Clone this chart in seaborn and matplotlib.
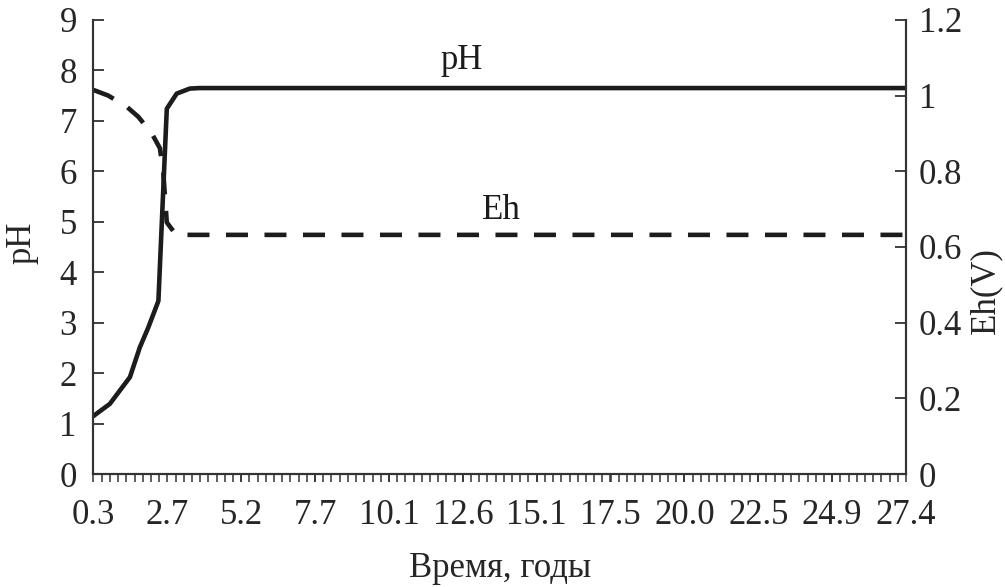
import matplotlib
matplotlib.use("Agg")
import matplotlib.pyplot as plt
from matplotlib.ticker import MultipleLocator, FuncFormatter
import seaborn as sns
import pandas as pd

# time in years (step of 100 days)
ph_time = [0.274, 0.82, 1.49, 1.82, 2.10, 2.44, 2.72, 3.05, 3.49, 3.80, 27.38]
ph_vals = [1.15, 1.39, 1.92, 2.51, 2.90, 3.43, 7.24, 7.54, 7.64, 7.65, 7.65]

eh_time = [0.274, 0.77, 1.38, 1.77, 2.22, 2.49, 2.60, 2.72, 3.03, 27.38]
eh_vals = [1.015, 1.00, 0.971, 0.944, 0.90, 0.861, 0.80, 0.665, 0.632, 0.632]

tick_pos = [0.274, 2.738, 5.203, 7.667, 10.13, 12.60, 15.06, 17.52, 19.99, 22.45, 24.91, 27.38]
tick_labels = ["0.3", "2.7", "5.2", "7.7", "10.1", "12.6", "15.1", "17.5", "20.0", "22.5", "24.9", "27.4"]

sns.set_style("white")
plt.rcParams['font.family'] = ['Liberation Serif', 'DejaVu Serif']
plt.rcParams['font.size'] = 25

col = "#1c1c1c"
df_ph = pd.DataFrame({"t": ph_time, "pH": ph_vals})
df_eh = pd.DataFrame({"t": eh_time, "Eh": eh_vals})

fig = plt.figure(figsize=(10.05, 5.87), dpi=100)
ax = fig.add_axes([0.093, 0.1925, 0.8085, 0.7735])
ax2 = ax.twinx()

sns.lineplot(data=df_ph, x="t", y="pH", ax=ax, color=col, lw=3.3)
sns.lineplot(data=df_eh, x="t", y="Eh", ax=ax2, color=col, lw=3.3,
             linestyle=(0, (4.8, 3.6)))

ax.set_xlim(0.2738, 27.38)
ax.set_ylim(0, 9)
ax2.set_ylim(0, 1.2)
ax.set_yticks(range(0, 10))
ax2.set_yticks([0, 0.2, 0.4, 0.6, 0.8, 1.0, 1.2])
ax2.yaxis.set_major_formatter(FuncFormatter(lambda v, p: f"{v:g}"))
ax.set_xticks(tick_pos)
ax.set_xticklabels(tick_labels)
ax.xaxis.set_minor_locator(MultipleLocator(0.2738))

for a in (ax, ax2):
    a.spines["top"].set_visible(False)
    for s in a.spines.values():
        s.set_color("#333333")
        s.set_linewidth(1.5)

ax.tick_params(axis="y", left=True, direction="in", length=8, width=1.3, color="#333333", pad=12, labelsize=25)
ax2.tick_params(axis="y", right=True, direction="in", length=8, width=1.3, color="#333333", pad=9, labelsize=25)
ax.tick_params(axis="x", which="both", bottom=True, direction="out", length=6, width=1.1, color="#333333", pad=12, labelsize=25)

ax.set_xlabel("Время, годы", fontsize=25)
ax.set_ylabel("pH", fontsize=25)
ax2.set_ylabel("Eh(V)", fontsize=25)
ax.xaxis.set_label_coords(0.5, -0.172)
ax.yaxis.set_label_coords(-0.068, 0.51)
ax2.yaxis.set_label_coords(1.0775, 0.405)

ax.text(12.56, 8.2, "pH", ha="center", va="center", fontsize=25, color=col)
ax.text(13.87, 5.23, "Eh", ha="center", va="center", fontsize=25, color=col)

fig.savefig("out.png", dpi=100)
